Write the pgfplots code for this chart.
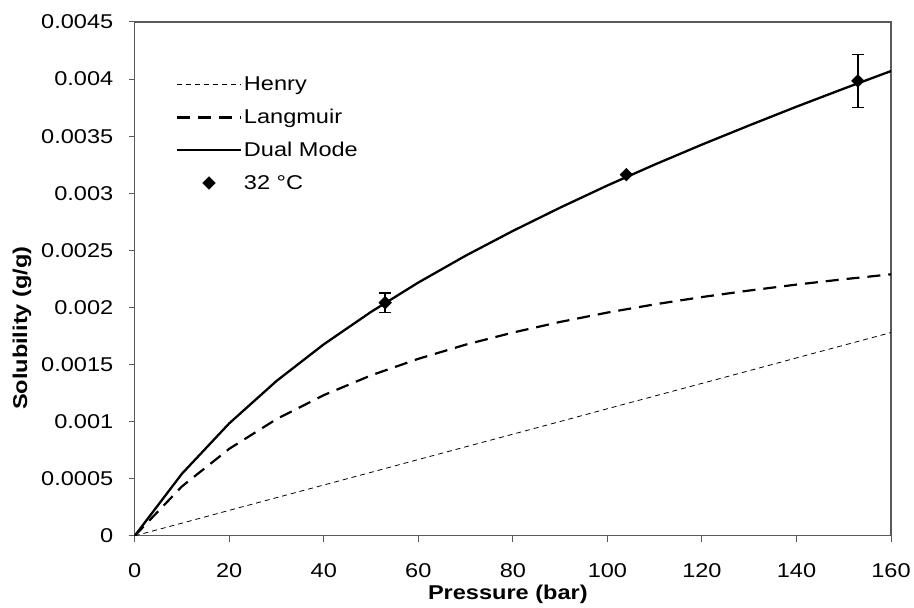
\documentclass[border=0pt]{standalone}
\usepackage{fontspec}
\setmainfont[FakeStretch=1.18]{Liberation Sans}
\usepackage{pgfplots}
\pgfplotsset{compat=1.18}
\begin{document}
\begin{tikzpicture}
\begin{axis}[
  scale only axis,
  width=758pt, height=515pt,
  xmin=0, xmax=160, ymin=0, ymax=0.0045,
  xtick={0,20,...,160},
  ytick={0,0.0005,0.001,0.0015,0.002,0.0025,0.003,0.0035,0.004,0.0045},
  yticklabels={0,0.0005,0.001,0.0015,0.002,0.0025,0.003,0.0035,0.004,0.0045},
  scaled y ticks=false,
  /pgf/number format/assume math mode=true,
  tick align=outside,
  tick pos=left,
  major tick length=6pt,
  axis line style={draw=black!65, line width=1.1pt},
  every tick/.style={black!65, line width=1pt},
  tick label style={font=\fontsize{20}{24}\selectfont},
  xticklabel style={yshift=-18pt},
  yticklabel style={xshift=-12pt},
  xlabel={\textbf{Pressure (bar)}},
  ylabel={\textbf{Solubility (g/g)}},
  label style={font=\fontsize{20}{24}\selectfont},
  xlabel style={at={(axis description cs:0.5,0)}, anchor=north, yshift=-46pt, xshift=-5pt},
  ylabel style={at={(axis description cs:0,0.404)}, anchor=south, yshift=100pt},
  legend style={at={(axis cs:8.66,0.004035)}, anchor=north west, draw=none, fill=none,
    font=\fontsize{20}{24}\selectfont, row sep=13pt, inner sep=0pt},
  legend cell align=left,
  legend image code/.code={\draw[mark repeat=2,mark phase=2,#1] plot coordinates {(0pt,0pt) (32pt,0pt) (64pt,0pt)};},
  clip=true,
]
\addplot[black, line width=0.8pt, dash pattern=on 5pt off 4pt] coordinates {
(0,0) (10,0.000111) (20,0.000223) (30,0.000334) (40,0.000445) (50,0.000556)
(60,0.000668) (70,0.000779) (80,0.00089) (90,0.001001) (100,0.001113)
(110,0.001224) (120,0.001335) (130,0.001446) (140,0.001558) (150,0.001669) (160,0.00178)};
\addlegendentry{Henry}
\addplot[black, line width=2.2pt, dash pattern=on 13pt off 8pt] coordinates {
(0,0) (10,0.000433) (20,0.000762) (30,0.001022) (40,0.001232) (50,0.001405)
(60,0.001550) (70,0.001674) (80,0.001780) (90,0.001873) (100,0.001955)
(110,0.002027) (120,0.002091) (130,0.002148) (140,0.002200) (150,0.002247) (160,0.002290)};
\addlegendentry{Langmuir}
\addplot[black, line width=2.3pt] coordinates {
(0,0) (10,0.000544) (20,0.000985) (30,0.001356) (40,0.001677) (50,0.001961)
(60,0.002218) (70,0.002453) (80,0.002670) (90,0.002874) (100,0.003068)
(110,0.003251) (120,0.003426) (130,0.003594) (140,0.003758) (150,0.003916) (160,0.004070)};
\addlegendentry{Dual Mode}
\addplot[black, only marks, mark=square*, mark size=4.5pt, mark options={rotate=45},
  error bars/.cd, y dir=both, y explicit,
  error bar style={line width=1.5pt}, error mark options={rotate=90, mark size=6pt, line width=1.6pt}]
  coordinates {
(53,0.002042) +- (0,0.000087)
(104,0.003163) +- (0,0)
(153,0.003984) +- (0,0.000232)};
\addlegendentry{32 °C}
\end{axis}
\useasboundingbox (-135pt,-68pt) rectangle (779pt,537pt);
\end{tikzpicture}
\end{document}
